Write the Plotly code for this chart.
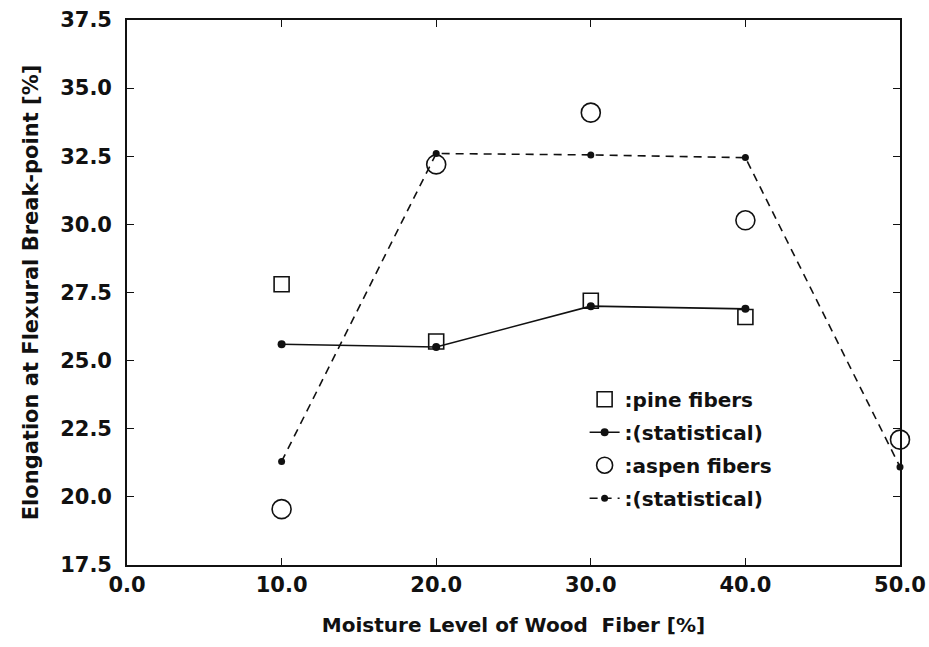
import plotly.graph_objects as go

# Moisture level of wood fiber [%]
moisture = [10, 20, 30, 40]
moisture_aspen = [10, 20, 30, 40, 50]

# Elongation at flexural break-point [%]
pine_measured = [27.8, 25.7, 27.2, 26.6]
pine_statistical = [25.6, 25.5, 27.0, 26.9]
aspen_measured = [19.55, 32.2, 34.1, 30.15, 22.1]
aspen_statistical = [21.3, 32.6, 32.55, 32.45, 21.1]

FONT = "DejaVu Sans, Arial, sans-serif"
INK = "#111111"

fig = go.Figure()

fig.add_trace(go.Scatter(
    x=moisture, y=pine_measured, mode="markers", name=":pine fibers",
    legendgroup="a",
    marker=dict(symbol="square-open", size=15, color=INK, line=dict(width=1.6)),
    cliponaxis=False,
))
fig.add_trace(go.Scatter(
    x=moisture, y=pine_statistical, mode="lines+markers", name=":(statistical)",
    legendgroup="b",
    line=dict(color=INK, width=1.6),
    marker=dict(symbol="circle", size=8, color=INK),
    cliponaxis=False,
))
fig.add_trace(go.Scatter(
    x=moisture_aspen, y=aspen_measured, mode="markers", name=":aspen fibers",
    legendgroup="c",
    marker=dict(symbol="circle-open", size=19, color=INK, line=dict(width=1.6)),
    cliponaxis=False,
))
fig.add_trace(go.Scatter(
    x=moisture_aspen, y=aspen_statistical, mode="lines+markers", name=":(statistical) ",
    legendgroup="d",
    line=dict(color=INK, width=1.6, dash="8px,6px"),
    marker=dict(symbol="circle", size=7, color=INK),
    cliponaxis=False,
))

axis_common = dict(
    showline=True, linecolor=INK, linewidth=1.6, mirror="ticks",
    ticks="inside", ticklen=7, tickwidth=1.4, tickcolor=INK,
    showgrid=False, zeroline=False, automargin=False,
    tickfont=dict(family=FONT, size=21, color=INK, weight="bold"),
)

fig.update_xaxes(
    range=[0, 50], tickvals=[0, 10, 20, 30, 40, 50], tickformat=".1f",
    title_text="Moisture Level of Wood  Fiber [%]", title_standoff=22,
    title_font=dict(family=FONT, size=20, color=INK, weight="bold"),
    **axis_common,
)
fig.update_yaxes(
    range=[17.5, 37.5], dtick=2.5, tick0=17.5, tickformat=".1f",
    title_text="Elongation at Flexural Break-point [%]", title_standoff=16,
    title_font=dict(family=FONT, size=21, color=INK, weight="bold"),
    ticklabelstandoff=9,
    **axis_common,
)

fig.update_layout(
    width=929, height=647,
    margin=dict(l=127, r=29, t=20, b=82),
    paper_bgcolor="white", plot_bgcolor="white",
    showlegend=True,
    legend=dict(
        x=0.592, y=0.34, xanchor="left", yanchor="top",
        bgcolor="rgba(0,0,0,0)", borderwidth=0,
        font=dict(family=FONT, size=20, color=INK, weight="bold"),
        itemwidth=30, tracegroupgap=4,
    ),
)

fig.write_html("out.html")
